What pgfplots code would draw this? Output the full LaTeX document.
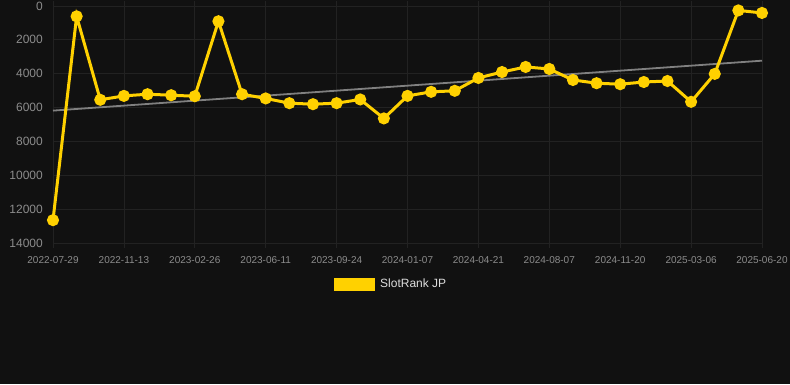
\documentclass[border=0pt]{standalone}
\usepackage{pgfplots}
\pgfplotsset{compat=1.18}
\usepackage{fontspec}
\setmainfont{Liberation Sans}
\definecolor{bg}{HTML}{111111}
\definecolor{gold}{HTML}{FFD100}
\definecolor{gridc}{HTML}{222222}
\definecolor{tickc}{HTML}{8C8C8C}
\definecolor{trendc}{HTML}{808080}
\definecolor{legc}{HTML}{DDDDDD}
\begin{document}
\begin{tikzpicture}
\fill[bg] (0pt,0pt) rectangle (790pt,384pt);
\begin{axis}[at={(53pt,141pt)}, anchor=south west, scale only axis,
  width=709pt, height=237pt,
  xmin=0, xmax=30, ymin=0, ymax=14000, y dir=reverse,
  clip=false,
  axis line style={draw=none},
  grid=major, major grid style={draw=gridc, line width=0.8pt},
  xtick={0,3,...,30},
  xticklabels={2022-07-29,2022-11-13,2023-02-26,2023-06-11,2023-09-24,2024-01-07,2024-04-21,2024-08-07,2024-11-20,2025-03-06,2025-06-20},
  ytick={0,2000,...,14000},
  scaled y ticks=false,
  /pgf/number format/assume math mode=true,
  /pgf/number format/1000 sep={},
  x tick style={draw=gridc, line width=0.8pt}, tick align=outside,
  major tick length=5pt,
  y tick style={draw=none},
  xticklabel style={font=\fontsize{10}{10}\selectfont, text=tickc, inner sep=0pt, yshift=-8pt},
  yticklabel style={font=\fontsize{12}{12}\selectfont, text=tickc, inner sep=0pt, xshift=-5pt},
  legend style={at={(0.3963,-0.173)}, anchor=west, draw=none, fill=none, inner sep=0pt,
    font=\fontsize{12}{12}\selectfont, text=legc},
  legend image code/.code={\fill[gold] (0pt,-5pt) rectangle (38pt,5pt);},
  legend entries={\hspace{3pt}SlotRank JP},
]
\addplot[trendc, line width=1.8pt, forget plot] coordinates {(0,6180) (30,3230)};
\addplot[gold, line width=3pt, mark=*, mark size=4.5pt, mark options={fill=gold, draw=gold}] table {
x y
0 12650
1 610
2 5540
3 5310
4 5210
5 5270
6 5330
7 900
8 5210
9 5460
10 5740
11 5800
12 5740
13 5520
14 6640
15 5310
16 5070
17 5010
18 4250
19 3900
20 3600
21 3720
22 4370
23 4560
24 4620
25 4490
26 4430
27 5660
28 4010
29 260
30 410
};
\end{axis}
\end{tikzpicture}
\end{document}
